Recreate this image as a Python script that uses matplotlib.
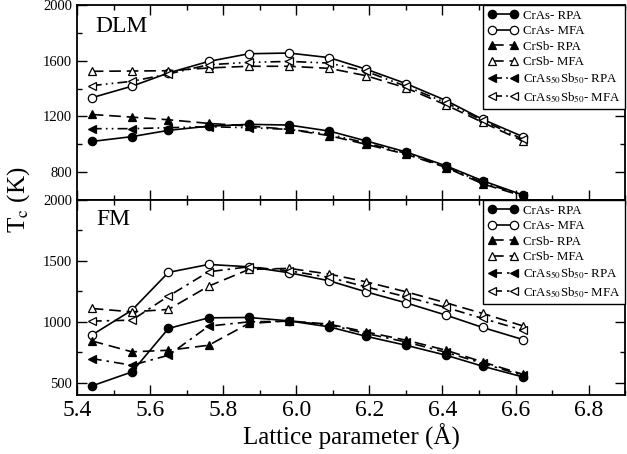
import numpy as np
import matplotlib
matplotlib.use('Agg')
import matplotlib.pyplot as plt
from matplotlib.ticker import MultipleLocator

plt.rcParams['font.family'] = ['Liberation Serif', 'DejaVu Serif']
plt.rcParams['mathtext.fontset'] = 'stix'

# lattice parameter (Angstrom)
lattice = [5.44, 5.55, 5.65, 5.76, 5.87, 5.98, 6.09, 6.19, 6.30, 6.41, 6.51, 6.62]

# DLM reference state
dlm_cras_rpa = [1020, 1055, 1100, 1130, 1143, 1138, 1095, 1025, 945, 845, 738, 636]
dlm_cras_mfa = [1334, 1417, 1512, 1595, 1650, 1655, 1622, 1540, 1436, 1314, 1179, 1055]
dlm_crsb_rpa = [1214, 1195, 1176, 1150, 1131, 1107, 1062, 1000, 929, 833, 716, 628]
dlm_crsb_mfa = [1524, 1526, 1528, 1548, 1560, 1560, 1545, 1493, 1405, 1282, 1157, 1024]
dlm_mix_rpa = [1112, 1112, 1119, 1126, 1119, 1107, 1072, 1010, 935, 838, 726, 632]
dlm_mix_mfa = [1421, 1452, 1505, 1571, 1588, 1595, 1583, 1524, 1417, 1298, 1171, 1036]

# FM reference state
fm_cras_rpa = [474, 589, 946, 1033, 1036, 1008, 959, 882, 808, 726, 636, 548]
fm_cras_mfa = [891, 1096, 1406, 1471, 1452, 1403, 1337, 1247, 1156, 1055, 954, 855]
fm_crsb_rpa = [844, 754, 767, 808, 987, 1008, 981, 918, 850, 767, 671, 570]
fm_crsb_mfa = [1110, 1082, 1102, 1293, 1430, 1439, 1392, 1329, 1247, 1156, 1069, 967]
fm_mix_rpa = [699, 644, 726, 965, 1000, 1006, 975, 905, 835, 750, 660, 560]
fm_mix_mfa = [1006, 1014, 1211, 1411, 1452, 1419, 1365, 1288, 1206, 1118, 1028, 932]

labels = ['CrAs- RPA', 'CrAs- MFA', 'CrSb- RPA', 'CrSb- MFA',
          r'CrAs$_{\mathrm{50}}$Sb$_{\mathrm{50}}$- RPA',
          r'CrAs$_{\mathrm{50}}$Sb$_{\mathrm{50}}$- MFA']

fig = plt.figure(figsize=(6.27, 4.54), dpi=100)
ax1 = fig.add_axes([0.123, 0.5595, 0.874, 0.4295])
ax2 = fig.add_axes([0.123, 0.13, 0.874, 0.4295])


def draw(ax, series, mixdash):
    ''' six curves with the same style in both panels '''
    styles = [
        dict(ls='-', marker='o', mfc='k'),
        dict(ls='-', marker='o', mfc='white'),
        dict(dashes=(7, 3.5), marker='^', mfc='k'),
        dict(dashes=(7, 3.5), marker='^', mfc='white'),
        dict(dashes=mixdash, marker='<', mfc='k'),
        dict(dashes=mixdash, marker='<', mfc='white'),
    ]
    for vals, st, lab in zip(series, styles, labels):
        ax.plot(lattice, vals, color='k', lw=1.2, ms=6, mec='k',
                mew=0.9, label=lab, **st)
    ax.set_xlim(5.4, 6.9)
    ax.xaxis.set_major_locator(MultipleLocator(0.2))
    ax.xaxis.set_minor_locator(MultipleLocator(0.1))
    ax.tick_params(which='both', direction='in', top=True, right=True)
    ax.tick_params(which='major', length=7, width=1)
    ax.tick_params(which='minor', length=3.5, width=1)
    ax.tick_params(axis='y', labelsize=10.5)
    ax.tick_params(axis='x', labelsize=17)
    for sp in ax.spines.values():
        sp.set_linewidth(1.3)
    leg = ax.legend(loc='upper right', fontsize=9.3, numpoints=2,
                    handlelength=2.3, handletextpad=0.4, labelspacing=0.27,
                    borderaxespad=0, borderpad=0.35, fancybox=False,
                    framealpha=1, edgecolor='k')
    leg.get_frame().set_linewidth(1.0)


draw(ax1, [dlm_cras_rpa, dlm_cras_mfa, dlm_crsb_rpa, dlm_crsb_mfa,
           dlm_mix_rpa, dlm_mix_mfa], (6, 2.5, 1, 2.5, 1, 2.5))
ax1.set_ylim(600, 2000)
ax1.yaxis.set_major_locator(MultipleLocator(400))
ax1.yaxis.set_minor_locator(MultipleLocator(200))
ax1.tick_params(axis='x', labelbottom=False)
ax1.text(0.033, 0.89, 'DLM', transform=ax1.transAxes, fontsize=17,
         va='center', ha='left')

draw(ax2, [fm_cras_rpa, fm_cras_mfa, fm_crsb_rpa, fm_crsb_mfa,
           fm_mix_rpa, fm_mix_mfa], (6, 3, 1.5, 3))
ax2.set_ylim(400, 2000)
ax2.yaxis.set_major_locator(MultipleLocator(500))
ax2.yaxis.set_minor_locator(MultipleLocator(250))
ax2.text(0.036, 0.90, 'FM', transform=ax2.transAxes, fontsize=17,
         va='center', ha='left')
ax2.set_xlabel('Lattice parameter (Å)', fontsize=18, labelpad=2)

fig.text(0.03, 0.56, r'T$_{\mathrm{c}}$ (K)', rotation=90, fontsize=18,
         ha='center', va='center')

fig.savefig('out.png', dpi=100)
